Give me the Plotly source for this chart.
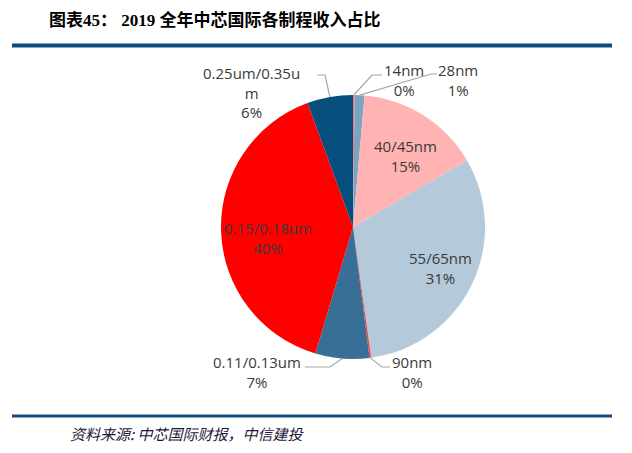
import math
import plotly.graph_objects as go

# data (revenue share by process node, 2019)
nodes = ['14nm', '28nm', '40/45nm', '55/65nm', '90nm',
         '0.11/0.13um', '0.15/0.18um', '0.25um/0.35um']
shares = [0.2, 1.2, 15.2, 31.2, 0.2, 6.6, 39.8, 5.6]
colors = ['#F2777A', '#7FA3BE', '#FFB3B3', '#B4C9D9', '#FF3B3B',
          '#376F96', '#FF0000', '#064E7C']

W, H = 632, 453
CX, CY, R = 353, 227, 132   # pie centre / radius in px


def px(x, y):
    return x / W, 1 - y / H


def edge(i):
    # point on the rim at the middle of slice i (clockwise from 12 o'clock)
    total = sum(shares)
    mid = (sum(shares[:i]) + shares[i] / 2) / total * 2 * math.pi
    return CX + R * math.sin(mid), CY - R * math.cos(mid)


def pct(i):
    return '%d%%' % round(shares[i] / sum(shares) * 100)


fig = go.Figure(go.Pie(
    labels=nodes, values=shares, sort=False, direction='clockwise',
    marker=dict(colors=colors, line=dict(width=0)),
    textinfo='none', hoverinfo='label+percent', showlegend=False,
    domain=dict(x=[(CX - R) / W, (CX + R) / W],
                y=[(H - CY - R) / H, (H - CY + R) / H]),
))

lbl_font = dict(family='Open Sans, sans-serif', size=15, color='#3A3A3A')

# label text: (index, centre x, centre y, text override)
labels = [
    (0, 404, 80, None),
    (1, 458, 80, None),
    (2, 405, 156, None),
    (3, 440, 268, None),
    (4, 412, 372, None),
    (5, 257, 372, None),
    (6, 268, 238, None),
    (7, 251, 92, '0.25um/0.35u<br>m'),
]
for i, x, y, txt in labels:
    name = txt if txt else nodes[i]
    ax, ay = px(x, y)
    fig.add_annotation(x=ax, y=ay, xref='paper', yref='paper', showarrow=False,
                       text=name + '<br>' + pct(i), font=lbl_font,
                       xanchor='center', yanchor='middle', align='center')

# leader lines for the outside labels: slice -> elbow -> end
leaders = [
    (0, (372, 75), (382, 75)),
    (1, (431, 74), (437, 74)),
    (7, (325, 75), (317, 75)),
    (5, (330, 367), (305, 367)),
    (4, (382, 367), (390, 367)),
]
for i, elbow, end in leaders:
    pts = [px(*edge(i)), px(*elbow), px(*end)]
    path = 'M %f %f L %f %f L %f %f' % (pts[0] + pts[1] + pts[2])
    fig.add_shape(type='path', path=path, xref='paper', yref='paper',
                  line=dict(color='#A6A6A6', width=1.2))

# header / footer rules
for y0, y1 in [(43.5, 47.5), (414.5, 417.5)]:
    a = px(12, y0)
    b = px(612, y1)
    fig.add_shape(type='rect', xref='paper', yref='paper',
                  x0=a[0], x1=b[0], y0=b[1], y1=a[1],
                  fillcolor='#0E4C80', line=dict(width=0))

tx, ty = px(47, 20)
fig.add_annotation(x=tx, y=ty, xref='paper', yref='paper', showarrow=False,
                   xanchor='left', yanchor='middle',
                   text='<b>图表45： 2019 全年中芯国际各制程收入占比</b>',
                   font=dict(family='Liberation Serif, Noto Sans CJK SC', size=17, color='#000000'))

sx, sy = px(68, 433)
fig.add_annotation(x=sx, y=sy, xref='paper', yref='paper', showarrow=False,
                   xanchor='left', yanchor='middle',
                   text='<i>资料来源: 中芯国际财报，中信建投</i>',
                   font=dict(family='Noto Sans CJK SC', size=15, color='#1A1A3A'))

fig.update_layout(width=W, height=H, margin=dict(l=0, r=0, t=0, b=0),
                  paper_bgcolor='white', plot_bgcolor='white')

# drop the browser's default body margin so the figure sits at the page corner
fig.write_html('out.html', config={'displayModeBar': False},
               post_script="document.body.style.margin='0';")
